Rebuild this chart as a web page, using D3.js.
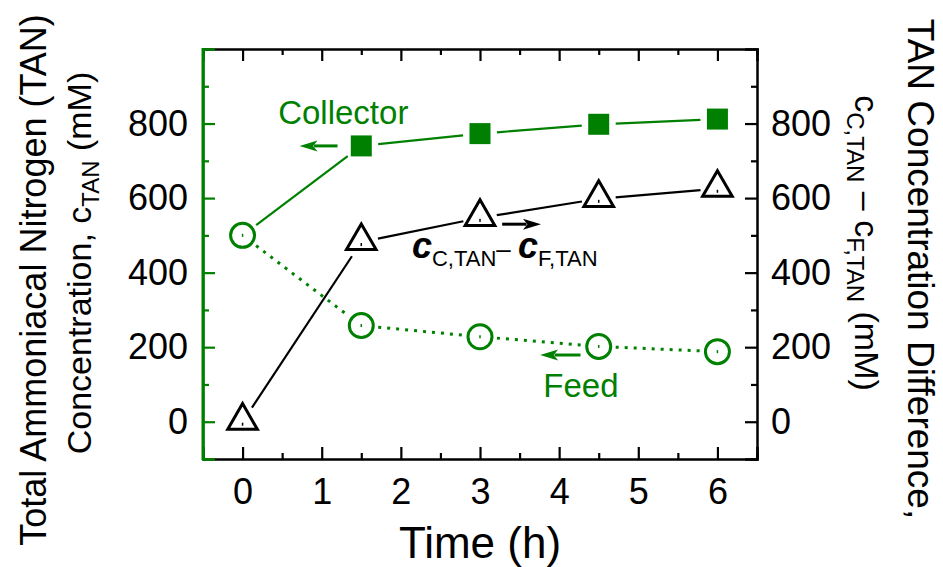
<!DOCTYPE html>
<html>
<head>
<meta charset="utf-8">
<script src="https://cdn.jsdelivr.net/npm/d3@7"></script>
<style>
  html, body { margin: 0; padding: 0; background: #fff; }
  svg { display: block; font-family: "Liberation Sans", Arial, sans-serif; }
</style>
</head>
<body>
<svg id="chart" width="943" height="567"></svg>
<script>
// Sampling times (h)
const times = [0, 1.5, 3, 4.5, 6];
// TAN concentration in the collector and feed solutions (mM)
const collector = [500, 740, 773, 798, 812];
const feed = [500, 258, 228, 202, 188];
// Concentration difference c_C,TAN - c_F,TAN (mM)
const difference = [0, 482, 547, 598, 625];

const xTicks = [0, 1, 2, 3, 4, 5, 6];
const xMinor = [-0.5, 0.5, 1.5, 2.5, 3.5, 4.5, 5.5, 6.5];
const yTicks = [0, 200, 400, 600, 800];
const yMinor = [-100, 100, 300, 500, 700, 900];

const GREEN = "#008000";
const svg = d3.select("#chart");

const x = d3.scaleLinear().domain([-0.5, 6.5]).range([203, 757]);
const y = d3.scaleLinear().domain([-100, 1000]).range([459, 49]);

const majorLen = 12, minorLen = 6, axisW = 2.5;

function styleAxis(g, color, labelled) {
  g.selectAll("path.domain").attr("stroke", color).attr("stroke-width", axisW);
  g.selectAll(".tick line").attr("stroke", color).attr("stroke-width", 2.2);
  g.selectAll(".tick text").attr("fill", "#000").style("font-size", "36px")
    .style("font-family", "Liberation Sans, Arial, sans-serif");
  if (!labelled) g.selectAll(".tick text").remove();
}

// bottom axis
const gb = svg.append("g").attr("transform", `translate(0,${y(-100)})`)
  .call(d3.axisBottom(x).tickValues(xTicks).tickSize(-majorLen).tickPadding(19).tickFormat(d3.format("d")));
styleAxis(gb, "#000", true);
gb.selectAll(".tick text").attr("dy", "0.71em");
const gbm = svg.append("g").attr("transform", `translate(0,${y(-100)})`)
  .call(d3.axisBottom(x).tickValues(xMinor).tickSize(-minorLen).tickFormat(""));
styleAxis(gbm, "#000", false);
gbm.select("path.domain").remove();

// top axis (ticks only)
const gt = svg.append("g").attr("transform", `translate(0,${y(1000)})`)
  .call(d3.axisTop(x).tickValues(xTicks).tickSize(-majorLen).tickFormat(""));
styleAxis(gt, "#000", false);
const gtm = svg.append("g").attr("transform", `translate(0,${y(1000)})`)
  .call(d3.axisTop(x).tickValues(xMinor).tickSize(-minorLen).tickFormat(""));
styleAxis(gtm, "#000", false);
gtm.select("path.domain").remove();

// right axis (difference)
const gr = svg.append("g").attr("transform", `translate(${x(6.5)},0)`)
  .call(d3.axisRight(y).tickValues(yTicks).tickSize(-majorLen).tickPadding(14).tickFormat(d3.format("d")));
styleAxis(gr, "#000", true);
const grm = svg.append("g").attr("transform", `translate(${x(6.5)},0)`)
  .call(d3.axisRight(y).tickValues(yMinor).tickSize(-minorLen).tickFormat(""));
styleAxis(grm, "#000", false);
grm.select("path.domain").remove();

// left axis (concentration), drawn green
const gl = svg.append("g").attr("transform", `translate(${x(-0.5)},0)`)
  .call(d3.axisLeft(y).tickValues(yTicks).tickSize(-majorLen).tickPadding(15).tickFormat(d3.format("d")));
styleAxis(gl, GREEN, true);
const glm = svg.append("g").attr("transform", `translate(${x(-0.5)},0)`)
  .call(d3.axisLeft(y).tickValues(yMinor).tickSize(-minorLen).tickFormat(""));
styleAxis(glm, GREEN, false);
glm.select("path.domain").remove();
// green spine over the frame corners
svg.append("line").attr("x1", x(-0.5)).attr("x2", x(-0.5)).attr("y1", y(1000) - 1).attr("y2", y(-100) + 1)
  .attr("stroke", GREEN).attr("stroke-width", axisW + 0.5);

// connecting lines, trimmed so they stop short of the symbols
function segments(xs, ys, gap) {
  const pts = xs.map((t, i) => [x(t), y(ys[i])]);
  const segs = [];
  for (let i = 0; i < pts.length - 1; i++) {
    const [x0, y0] = pts[i], [x1, y1] = pts[i + 1];
    const L = Math.hypot(x1 - x0, y1 - y0);
    const ux = (x1 - x0) / L, uy = (y1 - y0) / L;
    segs.push([[x0 + ux * gap, y0 + uy * gap], [x1 - ux * gap, y1 - uy * gap]]);
  }
  return segs;
}
const line = d3.line();

function drawSeries(vals, color, dash, width) {
  svg.append("g").selectAll("path").data(segments(times, vals, 17)).join("path")
    .attr("d", d => line(d)).attr("fill", "none").attr("stroke", color)
    .attr("stroke-width", width).attr("stroke-dasharray", dash);
}
drawSeries(collector, GREEN, null, 2.2);
drawSeries(feed, GREEN, "3,6", 3);
drawSeries(difference, "#000", null, 2.2);

// collector: filled squares (t > 0; the start point is shared with the feed)
const sq = 21;
svg.append("g").selectAll("rect").data(times.map((t, i) => [t, collector[i]]).filter(d => d[0] > 0)).join("rect")
  .attr("x", d => x(d[0]) - sq / 2).attr("y", d => y(d[1]) - sq / 2)
  .attr("width", sq).attr("height", sq).attr("fill", GREEN);

// feed: open circles with a centre dot
const feedPts = times.map((t, i) => [t, feed[i]]);
svg.append("g").selectAll("circle").data(feedPts).join("circle")
  .attr("cx", d => x(d[0])).attr("cy", d => y(d[1])).attr("r", 12)
  .attr("fill", "none").attr("stroke", GREEN).attr("stroke-width", 3);
svg.append("g").selectAll("rect").data(feedPts).join("rect")
  .attr("x", d => x(d[0]) - 0.75).attr("y", d => y(d[1]) - 1.5).attr("width", 1.5).attr("height", 3).attr("fill", GREEN);

// difference: open triangles with a centre dot
const diffPts = times.map((t, i) => [t, difference[i]]);
const tri = d3.symbol().type(d3.symbolTriangle).size(380);
svg.append("g").selectAll("path").data(diffPts).join("path")
  .attr("transform", d => `translate(${x(d[0])},${y(d[1]) - 1})`).attr("d", tri)
  .attr("fill", "none").attr("stroke", "#000").attr("stroke-width", 3).attr("stroke-linejoin", "miter");
svg.append("g").selectAll("rect").data(diffPts).join("rect")
  .attr("x", d => x(d[0]) - 0.75).attr("y", d => y(d[1]) + 1).attr("width", 1.5).attr("height", 3).attr("fill", "#000");

// arrows
function arrow(t0, t1, v, color) {
  const x0 = x(t0), x1 = x(t1), yy = y(v);
  const dir = Math.sign(x1 - x0), head = 18, half = 5.5;
  svg.append("line").attr("x1", x0).attr("x2", x1 - dir * head * 0.8).attr("y1", yy).attr("y2", yy)
    .attr("stroke", color).attr("stroke-width", 3);
  svg.append("path").attr("d", `M${x1},${yy} L${x1 - dir * head},${yy - half} L${x1 - dir * head * 0.75},${yy} L${x1 - dir * head},${yy + half} Z`)
    .attr("fill", color);
}
arrow(1.2, 0.72, 740, GREEN);
arrow(4.27, 3.76, 179, GREEN);
arrow(3.28, 3.77, 530, "#000");

// annotations
svg.append("text").attr("x", x(0.45)).attr("y", y(799)).attr("fill", GREEN)
  .style("font-size", "33px").text("Collector");
svg.append("text").attr("x", x(3.8)).attr("y", y(66)).attr("fill", GREEN)
  .style("font-size", "33px").text("Feed");

const ann = svg.append("text").attr("x", x(2.14)).attr("y", y(439)).attr("fill", "#000").style("font-size", "22px");
ann.append("tspan").style("font-size", "36px").style("font-style", "italic").style("font-weight", "bold").text("c");
ann.append("tspan").attr("dy", 8).text("C,TAN");
ann.append("tspan").attr("dy", -8).style("font-size", "26px").text("\u2013 ");
ann.append("tspan").style("font-size", "36px").style("font-style", "italic").style("font-weight", "bold").text("c");
ann.append("tspan").attr("dy", 8).text("F,TAN");

// axis titles
svg.append("text").attr("text-anchor", "middle").attr("x", x(3)).attr("y", 558)
  .style("font-size", "44px").text("Time (h)");

svg.append("text").attr("text-anchor", "middle").attr("transform", `translate(46,280) rotate(-90)`)
  .style("font-size", "36px").text("Total Ammoniacal Nitrogen (TAN)");
const l2 = svg.append("text").attr("text-anchor", "middle").attr("transform", `translate(91,263) rotate(-90)`)
  .style("font-size", "34px");
l2.append("tspan").text("Concentration, c");
l2.append("tspan").attr("dy", 8).style("font-size", "24px").text("TAN");
l2.append("tspan").attr("dy", -8).text(" (mM)");

svg.append("text").attr("text-anchor", "middle").attr("transform", `translate(908,269) rotate(90)`)
  .style("font-size", "37px").text("TAN Concentration Difference,");
const r2 = svg.append("text").attr("text-anchor", "middle").attr("transform", `translate(855,243) rotate(90)`)
  .style("font-size", "34px");
r2.append("tspan").text("c");
r2.append("tspan").attr("dy", 8).style("font-size", "24px").text("C,TAN");
r2.append("tspan").attr("dy", -8).text(" \u2013 c");
r2.append("tspan").attr("dy", 8).style("font-size", "24px").text("F,TAN");
r2.append("tspan").attr("dy", -8).text(" (mM)");
</script>
</body>
</html>
